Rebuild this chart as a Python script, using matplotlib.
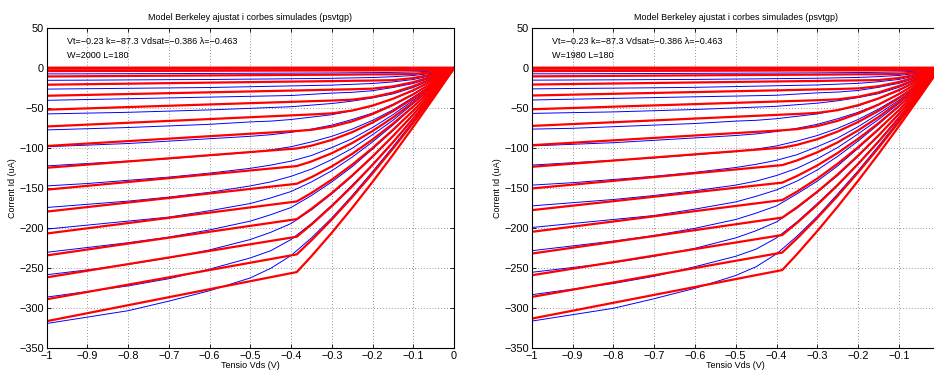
import matplotlib
matplotlib.use("Agg")
import matplotlib.pyplot as plt
import numpy as np

plt.rcParams['font.family'] = ['Liberation Sans', 'DejaVu Sans']

# drain voltage grids (V)
vds_red = [-1.0, -0.386, -0.35, -0.3, -0.25, -0.2, -0.15, -0.1, -0.05, 0.0]
vds_blue = [-1.0, -0.9, -0.8, -0.7, -0.6, -0.5, -0.45, -0.4, -0.35, -0.3,
            -0.25, -0.2, -0.15, -0.1, -0.05, 0.0]

# gate voltages of the curves (V), one row per curve in the tables below
vgs_steps = [-0.25, -0.30, -0.35, -0.40, -0.45, -0.50, -0.55, -0.60, -0.65,
             -0.70, -0.75, -0.80, -0.85, -0.90, -0.95, -1.00]

# fitted Berkeley model, W=2000 (uA)
red_w2000 = [
    [-0.3, -0.2, -0.2, -0.2, -0.2, -0.2, -0.2, -0.2, -0.2, 0],
    [-3.5, -2.8, -2.8, -2.7, -2.7, -2.6, -2.5, -2.5, -2.2, 0],
    [-10.2, -8.2, -8.1, -8.0, -7.8, -7.6, -7.5, -7.1, -4.7, 0],
    [-20.5, -16.5, -16.3, -16.0, -15.6, -15.3, -14.8, -12.2, -7.2, 0],
    [-34.3, -27.7, -27.3, -26.7, -26.2, -25.4, -22.6, -17.3, -9.7, 0],
    [-51.7, -41.7, -41.1, -40.3, -39.2, -36.0, -30.4, -22.3, -12.2, 0],
    [-72.7, -58.5, -57.7, -56.3, -52.8, -46.6, -38.1, -27.4, -14.6, 0],
    [-97.1, -78.3, -76.9, -72.9, -66.3, -57.2, -45.9, -32.5, -17.1, 0],
    [-124.3, -100.2, -96.7, -89.5, -79.8, -67.8, -53.7, -37.6, -19.6, 0],
    [-151.7, -122.2, -116.4, -106.1, -93.4, -78.4, -61.5, -42.6, -22.1, 0],
    [-179.1, -144.3, -136.1, -122.6, -106.9, -89.0, -69.3, -47.7, -24.6, 0],
    [-206.5, -166.4, -155.8, -139.2, -120.4, -99.6, -77.0, -52.8, -27.0, 0],
    [-233.9, -188.5, -175.6, -155.8, -133.9, -110.2, -84.8, -57.9, -29.5, 0],
    [-261.3, -210.5, -195.3, -172.3, -147.5, -120.8, -92.6, -62.9, -32.0, 0],
    [-288.7, -232.6, -215.0, -188.9, -161.0, -131.4, -100.4, -68.0, -34.5, 0],
    [-316.1, -254.7, -234.8, -205.5, -174.5, -142.0, -108.2, -73.1, -37.0, 0],
]

# simulated curves, W=2000 (uA)
blue_w2000 = [
    [-2.5, -2.4, -2.4, -2.3, -2.3, -2.2, -2.2, -2.1, -2.1, -2.0, -2.0, -1.9, -1.8, -1.7, -1.4, 0],
    [-7, -6.9, -6.7, -6.6, -6.4, -6.2, -6.1, -6, -5.9, -5.8, -5.6, -5.4, -5.1, -4.6, -3.5, 0],
    [-15, -14.8, -14.5, -14.2, -14, -13.5, -13.3, -13, -12.8, -12.5, -12, -11.5, -10.5, -9, -6, 0],
    [-26, -25.5, -25, -24.5, -24, -23, -22.5, -22, -21.5, -21, -20, -19, -17, -14, -8.5, 0],
    [-40, -39, -38, -37, -36, -35, -34.5, -34, -32.5, -31, -30, -28, -24, -19, -11, 0],
    [-57, -56, -55, -53.5, -52, -50, -49, -48, -46, -44, -41, -37, -32, -24, -13, 0],
    [-77, -75.5, -74, -72, -70, -67, -66, -64, -61, -58, -53, -47, -38, -28, -15, 0],
    [-98, -96, -94, -91, -88, -85, -83, -80, -76, -71, -64, -56, -45, -32, -17, 0],
    [-122, -119, -116, -113, -109, -105, -102, -98, -92, -85, -76, -65, -52, -36, -19, 0],
    [-147, -144, -140, -136, -131, -125, -121, -116, -109, -99, -88, -74, -58, -40, -21, 0],
    [-174, -170, -166, -161, -155, -147, -142, -135, -126, -114, -100, -83, -65, -44, -23, 0],
    [-201, -196, -191, -186, -178, -169, -162, -154, -142, -128, -111, -92, -71, -48, -25, 0],
    [-230, -224, -218, -211, -202, -191, -183, -174, -159, -142, -123, -101, -78, -53, -27, 0],
    [-258, -252, -245, -237, -227, -214, -205, -194, -177, -157, -135, -111, -85, -57, -29, 0],
    [-286, -279, -272, -263, -251, -237, -228, -214, -194, -171, -146, -120, -92, -62, -31, 0],
    [-319, -311, -303, -291, -278, -262, -250, -234, -212, -187, -159, -129, -98, -66, -33, 0],
]

# fitted Berkeley model, W=1980 (uA)
red_w1980 = [
    [-0.3, -0.2, -0.2, -0.2, -0.2, -0.2, -0.2, -0.2, -0.2, 0],
    [-3.5, -2.8, -2.7, -2.7, -2.6, -2.6, -2.5, -2.5, -2.2, 0],
    [-10.1, -8.1, -8.0, -7.9, -7.7, -7.5, -7.4, -7.0, -4.7, 0],
    [-20.3, -16.3, -16.1, -15.8, -15.4, -15.1, -14.7, -12.1, -7.1, 0],
    [-34.0, -27.4, -27.0, -26.4, -25.9, -25.1, -22.4, -17.1, -9.6, 0],
    [-51.2, -41.3, -40.7, -39.9, -38.8, -35.6, -30.1, -22.1, -12.1, 0],
    [-72.0, -57.9, -57.1, -55.7, -52.3, -46.1, -37.7, -27.1, -14.5, 0],
    [-96.1, -77.5, -76.1, -72.2, -65.6, -56.6, -45.4, -32.2, -16.9, 0],
    [-123.1, -99.2, -95.7, -88.6, -79.0, -67.1, -53.2, -37.2, -19.4, 0],
    [-150.2, -121.0, -115.2, -105.0, -92.5, -77.6, -60.9, -42.2, -21.9, 0],
    [-177.3, -142.9, -134.7, -121.4, -105.8, -88.1, -68.6, -47.2, -24.4, 0],
    [-204.4, -164.7, -154.2, -137.8, -119.2, -98.6, -76.2, -52.3, -26.7, 0],
    [-231.6, -186.6, -173.8, -154.2, -132.6, -109.1, -84.0, -57.3, -29.2, 0],
    [-258.7, -208.4, -193.3, -170.6, -146.0, -119.6, -91.7, -62.3, -31.7, 0],
    [-285.8, -230.3, -212.9, -187.0, -159.4, -130.1, -99.4, -67.3, -34.2, 0],
    [-312.9, -252.2, -232.5, -203.4, -172.8, -140.6, -107.1, -72.4, -36.6, 0],
]

# simulated curves, W=1980 (uA)
blue_w1980 = [
    [-2.5, -2.4, -2.4, -2.3, -2.3, -2.2, -2.2, -2.1, -2.1, -2.0, -2.0, -1.9, -1.8, -1.7, -1.4, 0],
    [-6.9, -6.8, -6.6, -6.5, -6.3, -6.1, -6.0, -5.9, -5.8, -5.7, -5.5, -5.3, -5.0, -4.6, -3.5, 0],
    [-14.8, -14.6, -14.4, -14.1, -13.9, -13.4, -13.2, -12.9, -12.7, -12.4, -11.9, -11.4, -10.4, -8.9, -5.9, 0],
    [-25.7, -25.2, -24.8, -24.3, -23.8, -22.8, -22.3, -21.8, -21.3, -20.8, -19.8, -18.8, -16.8, -13.9, -8.4, 0],
    [-39.6, -38.6, -37.6, -36.6, -35.6, -34.7, -34.2, -33.7, -32.2, -30.7, -29.7, -27.7, -23.8, -18.8, -10.9, 0],
    [-56.4, -55.4, -54.5, -53, -51.5, -49.5, -48.5, -47.5, -45.5, -43.6, -40.6, -36.6, -31.7, -23.8, -12.9, 0],
    [-76, -75, -73, -71, -69, -66, -65, -63, -60, -57, -52, -47, -38, -28, -15, 0],
    [-97, -95, -93, -90, -87, -84, -82, -79, -75, -70, -63, -55, -45, -32, -17, 0],
    [-121, -118, -115, -112, -108, -104, -101, -97, -91, -84, -75, -64, -51, -36, -19, 0],
    [-146, -143, -139, -135, -130, -124, -120, -115, -108, -98, -87, -73, -57, -40, -21, 0],
    [-172, -168, -164, -159, -153, -146, -141, -134, -125, -113, -99, -82, -64, -44, -23, 0],
    [-199, -194, -189, -184, -176, -167, -160, -152, -141, -127, -110, -91, -70, -48, -25, 0],
    [-228, -222, -216, -209, -200, -189, -181, -172, -157, -141, -122, -100, -77, -52, -27, 0],
    [-255, -249, -243, -235, -225, -212, -203, -192, -175, -155, -134, -110, -84, -56, -29, 0],
    [-283, -276, -269, -260, -248, -235, -226, -212, -192, -169, -145, -119, -91, -61, -31, 0],
    [-316, -308, -300, -288, -275, -259, -248, -232, -210, -185, -157, -128, -97, -65, -33, 0],
]

# curves below threshold (Vgs = 0 ... -0.2) sit on zero
n_off = 5
zero_red = [0.0] * len(vds_red)
zero_blue = [0.0] * len(vds_blue)

fit_text = 'Vt=\u22120.23 k=\u221287.3 Vdsat=\u22120.386 \u03bb=\u22120.463'
xticks = [-1, -0.9, -0.8, -0.7, -0.6, -0.5, -0.4, -0.3, -0.2, -0.1, 0]
xticklabels = ['\u22121', '\u22120.9', '\u22120.8', '\u22120.7', '\u22120.6', '\u22120.5',
               '\u22120.4', '\u22120.3', '\u22120.2', '\u22120.1', '0']
yticks = [50, 0, -50, -100, -150, -200, -250, -300, -350]
yticklabels = ['50', '0', '\u221250', '\u2212100', '\u2212150', '\u2212200',
               '\u2212250', '\u2212300', '\u2212350']

fig = plt.figure(figsize=(9.34, 3.74), dpi=100)
ax1 = fig.add_axes([0.050, 0.0687, 0.4361, 0.8556])
ax2 = fig.add_axes([0.5693, 0.0687, 0.4368, 0.8556])

# the right panel runs past the picture's edge, its "0" label is not shown
panels = [(ax1, red_w2000, blue_w2000, 'W=2000 L=180', xticklabels),
          (ax2, red_w1980, blue_w1980, 'W=1980 L=180', xticklabels[:-1] + ['']),]

for ax, red, blue, wl, xl in panels:
    for i in range(n_off):
        ax.plot(vds_blue, zero_blue, color='blue', lw=0.7)
    for row in blue:
        ax.plot(vds_blue, row, color='blue', lw=0.7)
    for i in range(n_off):
        ax.plot(vds_red, zero_red, color='red', lw=1.6)
    for row in red:
        ax.plot(vds_red, row, color='red', lw=1.6)

    ax.set_xlim(-1, 0)
    ax.set_ylim(-350, 50)
    ax.set_xticks(xticks)
    ax.set_xticklabels(xl)
    ax.set_yticks(yticks)
    ax.set_yticklabels(yticklabels)
    ax.tick_params(direction='in', top=True, right=True, labelsize=7.8,
                   length=3, width=0.6, pad=2)
    ax.grid(True, linestyle=(0, (1, 2.5)), color='0.45', lw=0.6)
    for s in ax.spines.values():
        s.set_linewidth(0.8)
    ax.set_title('Model Berkeley ajustat i corbes simulades (psvtgp)', fontsize=6.5, pad=6)
    ax.set_xlabel('Tensio Vds (V)', fontsize=6.5, labelpad=0)
    ax.set_ylabel('Corrent Id (uA)', fontsize=6.5, labelpad=2)
    ax.text(-0.95, 34, fit_text, fontsize=6.5, va='center')
    ax.text(-0.95, 16, wl, fontsize=6.5, va='center')

fig.savefig('out.png', dpi=100)
